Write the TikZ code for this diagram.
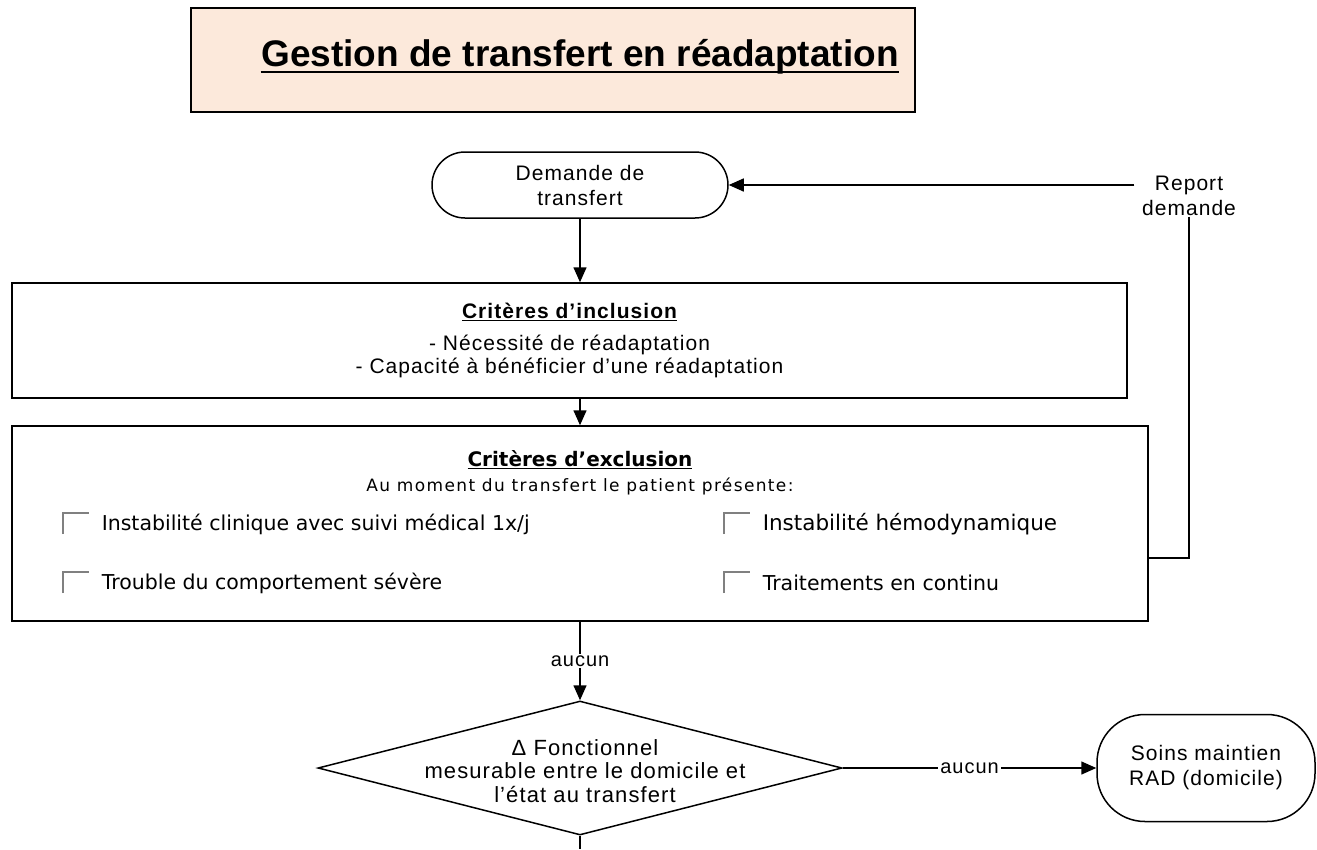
\documentclass[tikz,border=0pt]{standalone}
\usepackage{fontspec}
\setmainfont{Liberation Sans}
\newfontfamily\arialsp[LetterSpace=5]{Liberation Sans}
\newfontfamily\tahoma{DejaVu Sans}
\newfontfamily\tahomasp[LetterSpace=8]{DejaVu Sans}
\usetikzlibrary{shapes.geometric,arrows.meta}
\definecolor{peach}{RGB}{252,233,219}

\begin{document}
\begin{tikzpicture}
    [x=1pt,y=-1pt,line width=1.5pt,
     every node/.style={align=center,inner sep=0pt,font=\arialsp\fontsize{21}{25}\selectfont},
     box/.style={draw,rectangle},
     term/.style={draw,rectangle,rounded corners=#1},
     crit/.style={anchor=west,font=\tahoma\fontsize{20.5}{24}\selectfont},
     aucun/.style={fill=white,inner sep=2pt,font=\arialsp\fontsize{20}{24}\selectfont},
     arr/.style={-{Triangle[length=15pt,width=13pt]}},
     chk/.style={line width=2.5pt,draw=gray}]
    \useasboundingbox (0,0) rectangle (1317,849);
    \node[box,fill=peach,minimum width=724pt,minimum height=104pt] (tbox) at (553,60) {};
    \node[font=\rmfamily\bfseries\fontsize{37}{44}\selectfont] (titre) at (580,57) {Gestion de transfert en réadaptation};
    \draw[line width=2.5pt] ([yshift=3pt]titre.south west) -- ([yshift=3pt]titre.south east);
    \node[term=33pt,minimum width=296pt,minimum height=66pt] (dem) at (580,185) {Demande de\\transfert};
    \node (rep) at (1189,196) {Report\\demande};
    \node[box,minimum width=1115pt,minimum height=115pt,font=\arialsp\fontsize{21}{23}\selectfont] (incl) at (569.5,340.5)
      {{\bfseries\underline{Critères d’inclusion}}\\[9pt]- Nécessité de réadaptation\\- Capacité à bénéficier d’une réadaptation};
    \node[box,minimum width=1136pt,minimum height=195pt] (excl) at (580,523.5) {};
    \node[font=\tahoma\bfseries\fontsize{20}{24}\selectfont] (exh) at (580,460) {\underline{Critères d’exclusion}};
    \node[font=\tahomasp\fontsize{17}{20}\selectfont] (exs) at (580,486) {Au moment du transfert le patient présente:};
    \node[crit] (c1) at (101,524) {Instabilité clinique avec suivi médical 1x/j};
    \node[crit] (c2) at (101,583) {Trouble du comportement sévère};
    \node[crit,font=\tahoma\fontsize{21.5}{24}\selectfont] (c3) at (762,524) {Instabilité hémodynamique};
    \node[crit] (c4) at (762,583) {Traitements en continu};
    \foreach \c in {c1,c2,c3,c4}
      \draw[chk] ([xshift=-38pt,yshift=-10pt]\c.west) -- ++(0,-21) -- ++(26,0);
    \node[diamond,draw,minimum width=524pt,minimum height=134pt] (fct) at (580,768) {};
    \node[font=\arialsp\fontsize{22}{23.5}\selectfont] (fcttxt) at (585,771) {Δ Fonctionnel\\mesurable entre le domicile et\\l’état au transfert};
    \node[term=48pt,minimum width=218pt,minimum height=107pt] (soins) at (1206,768) {Soins maintien\\RAD (domicile)};
    \coordinate (bas) at (580,849);
    \draw[arr] (dem) -- (dem |- incl.north);
    \draw[arr] (dem |- incl.south) -- (dem |- excl.north);
    \draw[arr] (excl) -- node[aucun] (a1) {aucun} (fct);
    \draw[arr] (fct) -- node[aucun] (a2) {aucun} (soins);
    \draw[arr] ([xshift=-7pt]rep.west |- dem) -- (dem);
    \draw (rep.south) |- ([yshift=-34.5pt]excl.east);
    \draw (fct) -- (bas);
\end{tikzpicture}
\end{document}
